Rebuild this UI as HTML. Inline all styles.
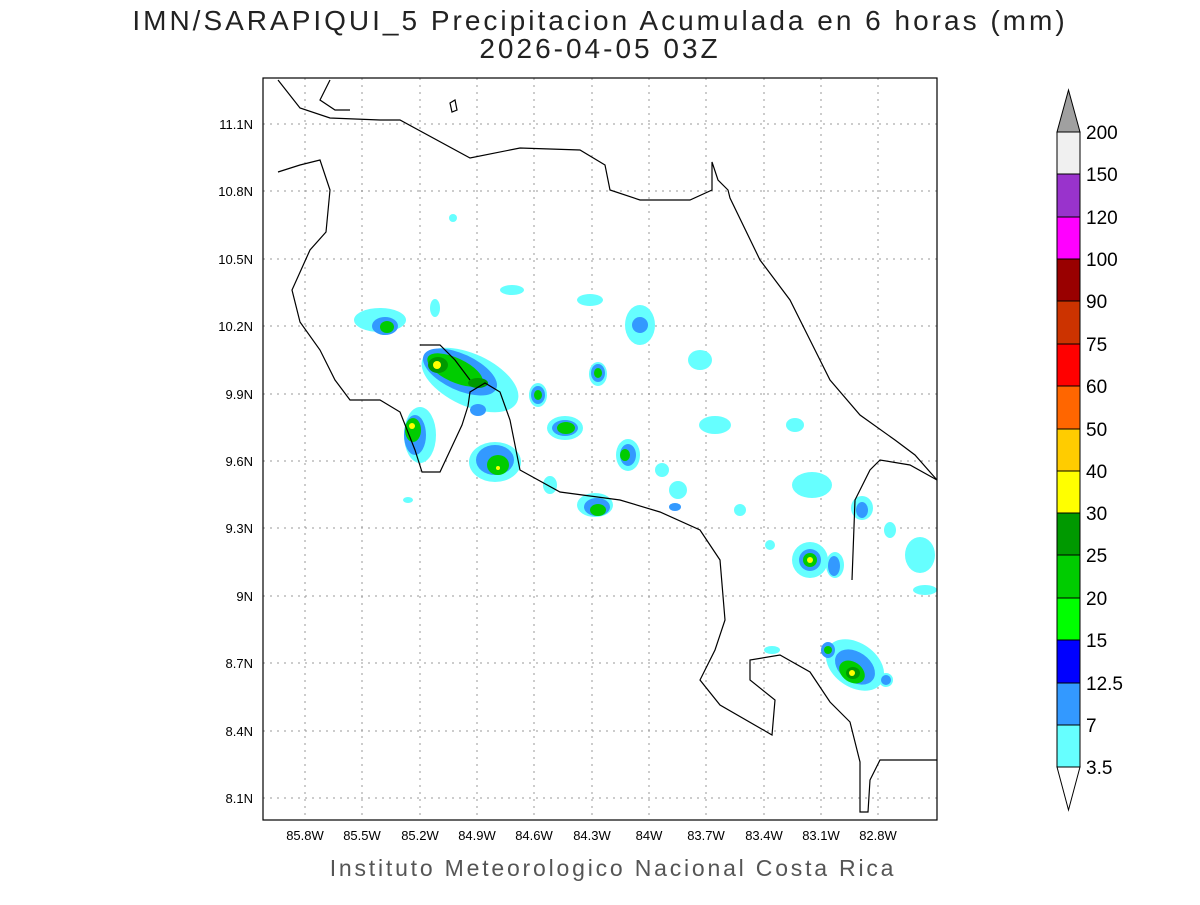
<!DOCTYPE html>
<html><head><meta charset="utf-8"><style>
body{margin:0;background:#fff;width:1200px;height:900px;overflow:hidden}
svg text{font-family:"Liberation Sans",sans-serif}
</style></head><body>
<svg width="1200" height="900" xmlns="http://www.w3.org/2000/svg">
<rect width="1200" height="900" fill="#fff"/>
<text x="600" y="30" font-size="28" text-anchor="middle" fill="#222" letter-spacing="3">IMN/SARAPIQUI_5 Precipitacion Acumulada en 6 horas (mm)</text>
<text x="600" y="58" font-size="28" text-anchor="middle" fill="#222" letter-spacing="3">2026-04-05 03Z</text>
<text x="613" y="876" font-size="23" text-anchor="middle" fill="#555" letter-spacing="2.8">Instituto Meteorologico Nacional Costa Rica</text>
<g stroke="#999" stroke-width="1" stroke-dasharray="2,5">
<line x1="263" x2="937" y1="124" y2="124"/><line x1="263" x2="937" y1="191" y2="191"/><line x1="263" x2="937" y1="259" y2="259"/><line x1="263" x2="937" y1="326" y2="326"/><line x1="263" x2="937" y1="394" y2="394"/><line x1="263" x2="937" y1="461" y2="461"/><line x1="263" x2="937" y1="528" y2="528"/><line x1="263" x2="937" y1="596" y2="596"/><line x1="263" x2="937" y1="663" y2="663"/><line x1="263" x2="937" y1="731" y2="731"/><line x1="263" x2="937" y1="798" y2="798"/>
<line y1="78" y2="820" x1="305" x2="305"/><line y1="78" y2="820" x1="362" x2="362"/><line y1="78" y2="820" x1="420" x2="420"/><line y1="78" y2="820" x1="477" x2="477"/><line y1="78" y2="820" x1="534" x2="534"/><line y1="78" y2="820" x1="592" x2="592"/><line y1="78" y2="820" x1="649" x2="649"/><line y1="78" y2="820" x1="706" x2="706"/><line y1="78" y2="820" x1="764" x2="764"/><line y1="78" y2="820" x1="821" x2="821"/><line y1="78" y2="820" x1="878" x2="878"/>
</g>
<g font-size="13" fill="#000" text-anchor="end">
<text x="253" y="129">11.1N</text><text x="253" y="196">10.8N</text><text x="253" y="264">10.5N</text><text x="253" y="331">10.2N</text><text x="253" y="399">9.9N</text><text x="253" y="466">9.6N</text><text x="253" y="533">9.3N</text><text x="253" y="601">9N</text><text x="253" y="668">8.7N</text><text x="253" y="736">8.4N</text><text x="253" y="803">8.1N</text>
</g>
<g font-size="13" fill="#000" text-anchor="middle">
<text x="305" y="840">85.8W</text><text x="362" y="840">85.5W</text><text x="420" y="840">85.2W</text><text x="477" y="840">84.9W</text><text x="534" y="840">84.6W</text><text x="592" y="840">84.3W</text><text x="649" y="840">84W</text><text x="706" y="840">83.7W</text><text x="764" y="840">83.4W</text><text x="821" y="840">83.1W</text><text x="878" y="840">82.8W</text>
</g>
<g>
<g fill="#66ffff">
<ellipse cx="380" cy="320" rx="26" ry="12"/><ellipse cx="470" cy="380" rx="52" ry="26" transform="rotate(25 470 380)"/><ellipse cx="420" cy="435" rx="16" ry="28"/><ellipse cx="495" cy="462" rx="26" ry="20"/><ellipse cx="538" cy="395" rx="9" ry="12"/><ellipse cx="565" cy="428" rx="18" ry="12"/><ellipse cx="598" cy="374" rx="9" ry="12"/><ellipse cx="628" cy="455" rx="12" ry="16"/><ellipse cx="595" cy="505" rx="18" ry="12"/><ellipse cx="640" cy="325" rx="15" ry="20"/><ellipse cx="590" cy="300" rx="13" ry="6"/><ellipse cx="512" cy="290" rx="12" ry="5"/><ellipse cx="715" cy="425" rx="16" ry="9"/><ellipse cx="700" cy="360" rx="12" ry="10"/><ellipse cx="812" cy="485" rx="20" ry="13"/><ellipse cx="795" cy="425" rx="9" ry="7"/><ellipse cx="810" cy="560" rx="18" ry="18"/><ellipse cx="835" cy="565" rx="9" ry="13"/><ellipse cx="862" cy="508" rx="11" ry="12"/><ellipse cx="920" cy="555" rx="15" ry="18"/><ellipse cx="855" cy="665" rx="32" ry="22" transform="rotate(35 855 665)"/><ellipse cx="886" cy="680" rx="7" ry="7"/><ellipse cx="678" cy="490" rx="9" ry="9"/><ellipse cx="662" cy="470" rx="7" ry="7"/><ellipse cx="435" cy="308" rx="5" ry="9"/><ellipse cx="453" cy="218" rx="4" ry="4"/><ellipse cx="740" cy="510" rx="6" ry="6"/><ellipse cx="772" cy="650" rx="8" ry="4"/><ellipse cx="550" cy="485" rx="7" ry="9"/><ellipse cx="408" cy="500" rx="5" ry="3"/><ellipse cx="925" cy="590" rx="12" ry="5"/><ellipse cx="770" cy="545" rx="5" ry="5"/><ellipse cx="890" cy="530" rx="6" ry="8"/></g>
<g fill="#3399ff">
<ellipse cx="385" cy="326" rx="13" ry="9"/><ellipse cx="460" cy="372" rx="40" ry="18" transform="rotate(25 460 372)"/><ellipse cx="415" cy="435" rx="11" ry="20"/><ellipse cx="495" cy="460" rx="19" ry="15"/><ellipse cx="538" cy="395" rx="7" ry="9"/><ellipse cx="565" cy="428" rx="13" ry="8"/><ellipse cx="598" cy="373" rx="7" ry="9"/><ellipse cx="628" cy="455" rx="8" ry="11"/><ellipse cx="597" cy="507" rx="13" ry="9"/><ellipse cx="640" cy="325" rx="8" ry="8"/><ellipse cx="810" cy="560" rx="11" ry="11"/><ellipse cx="834" cy="566" rx="6" ry="10"/><ellipse cx="855" cy="667" rx="22" ry="15" transform="rotate(35 855 667)"/><ellipse cx="828" cy="650" rx="7" ry="8"/><ellipse cx="886" cy="680" rx="5" ry="5"/><ellipse cx="478" cy="410" rx="8" ry="6"/><ellipse cx="675" cy="507" rx="6" ry="4"/><ellipse cx="862" cy="510" rx="6" ry="8"/></g>
<g fill="#00cc00">
<ellipse cx="387" cy="327" rx="7" ry="6"/><ellipse cx="455" cy="370" rx="30" ry="12" transform="rotate(25 455 370)"/><ellipse cx="413" cy="430" rx="8" ry="12"/><ellipse cx="498" cy="465" rx="11" ry="10"/><ellipse cx="566" cy="428" rx="9" ry="6"/><ellipse cx="598" cy="510" rx="8" ry="6"/><ellipse cx="625" cy="455" rx="5" ry="6"/><ellipse cx="810" cy="560" rx="7" ry="7"/><ellipse cx="852" cy="672" rx="14" ry="10" transform="rotate(35 852 672)"/><ellipse cx="538" cy="395" rx="4" ry="5"/><ellipse cx="598" cy="373" rx="4" ry="5"/><ellipse cx="828" cy="650" rx="4" ry="4"/></g>
<g fill="#009900"><ellipse cx="438" cy="365" rx="10" ry="8"/><ellipse cx="478" cy="383" rx="10" ry="5"/><ellipse cx="853" cy="673" rx="7" ry="6"/></g>
<g fill="#ffff00"><ellipse cx="437" cy="365" rx="4" ry="4"/><ellipse cx="412" cy="426" rx="3" ry="3"/><ellipse cx="852" cy="673" rx="3" ry="3"/><ellipse cx="810" cy="560" rx="3" ry="3"/><ellipse cx="498" cy="468" rx="2" ry="2"/></g>
</g>
<g fill="none" stroke="#000" stroke-width="1.2">
<polyline points="278,80 300,108 330,118 380,120 400,120 470,158 520,148 580,150 605,165 610,190 640,200 690,200 712,190 712,162 718,180 728,190 730,198 760,260 790,300 810,340 830,380 860,415 895,440 915,455 937,480"/>
<polyline points="330,80 320,100 335,110 350,110"/>
<polyline points="278,172 300,165 320,160 330,190 326,232 310,250 292,290 300,322 320,350 335,380 350,400 380,400 400,412 415,450 422,472 440,472 455,440 462,425 468,406 470,392 485,383 500,392 510,420 520,470 560,492 620,500 660,512 700,530 720,560 725,620 715,650 700,680 720,705 772,735 775,700 750,680 750,660 780,655 810,672 830,702 850,722 860,762 860,812 868,812 870,780 880,760 937,760"/>
<polyline points="420,345 440,345 455,360 470,380"/>
<polyline points="852,580 855,500 870,470 880,460 910,465 937,480"/>
<polygon points="450,103 455,100 457,110 452,112"/>
</g>
<rect x="263" y="78" width="674" height="742" fill="none" stroke="#000" stroke-width="1.2"/>
<g stroke="#000" stroke-width="1">
<polygon points="1057,132 1080,132 1068.5,90" fill="#a0a0a0"/>
<rect x="1057" y="132" width="23" height="42" fill="#f0f0f0"/>
<rect x="1057" y="174" width="23" height="43" fill="#9933cc"/>
<rect x="1057" y="217" width="23" height="42" fill="#ff00ff"/>
<rect x="1057" y="259" width="23" height="42" fill="#990000"/>
<rect x="1057" y="301" width="23" height="43" fill="#cc3300"/>
<rect x="1057" y="344" width="23" height="42" fill="#ff0000"/>
<rect x="1057" y="386" width="23" height="43" fill="#ff6600"/>
<rect x="1057" y="429" width="23" height="42" fill="#ffcc00"/>
<rect x="1057" y="471" width="23" height="42" fill="#ffff00"/>
<rect x="1057" y="513" width="23" height="42" fill="#009900"/>
<rect x="1057" y="555" width="23" height="43" fill="#00cc00"/>
<rect x="1057" y="598" width="23" height="42" fill="#00ff00"/>
<rect x="1057" y="640" width="23" height="43" fill="#0000ff"/>
<rect x="1057" y="683" width="23" height="42" fill="#3399ff"/>
<rect x="1057" y="725" width="23" height="42" fill="#66ffff"/>
<polygon points="1057,767 1080,767 1068.5,810" fill="#fff"/>
</g>
<g font-size="19" fill="#000">
<text x="1086" y="139">200</text><text x="1086" y="181">150</text><text x="1086" y="224">120</text><text x="1086" y="266">100</text><text x="1086" y="308">90</text><text x="1086" y="351">75</text><text x="1086" y="393">60</text><text x="1086" y="436">50</text><text x="1086" y="478">40</text><text x="1086" y="520">30</text><text x="1086" y="562">25</text><text x="1086" y="605">20</text><text x="1086" y="647">15</text><text x="1086" y="690">12.5</text><text x="1086" y="732">7</text><text x="1086" y="774">3.5</text>
</g>
</svg>
</body></html>
